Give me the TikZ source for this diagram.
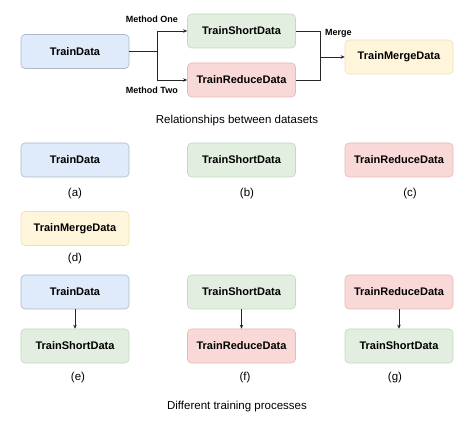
\documentclass[tikz,border=0pt]{standalone}
\usepackage{fontspec}
\setmainfont{Liberation Sans}
\usetikzlibrary{arrows.meta}
\definecolor{tdfill}{HTML}{DFEAFA}
\definecolor{tddraw}{HTML}{A9B9CF}
\definecolor{tsfill}{HTML}{E2EEDF}
\definecolor{tsdraw}{HTML}{C3DAC0}
\definecolor{trfill}{HTML}{F9D9D7}
\definecolor{trdraw}{HTML}{E6B9B6}
\definecolor{tmfill}{HTML}{FFF5DA}
\definecolor{tmdraw}{HTML}{F0DFB2}
\begin{document}
\begin{tikzpicture}[x=1pt,y=-1pt,>={Stealth[length=4pt,width=3.5pt]}]
    \tikzstyle{block} = [draw,rectangle,rounded corners=4pt,line width=0.6pt,minimum width=108pt,minimum height=34pt,font=\fontsize{11}{13}\selectfont\bfseries]
    \tikzstyle{tdb} = [block,fill=tdfill,draw=tddraw]
    \tikzstyle{tsb} = [block,fill=tsfill,draw=tsdraw]
    \tikzstyle{trb} = [block,fill=trfill,draw=trdraw]
    \tikzstyle{tmb} = [block,fill=tmfill,draw=tmdraw]
    \tikzstyle{lbl} = [font=\fontsize{9}{11}\selectfont\bfseries,inner sep=0pt]
    \tikzstyle{captxt} = [font=\fontsize{11.5}{13}\selectfont,inner sep=0pt]
    \tikzstyle{wire} = [line width=0.7pt,draw=black!85]
    \useasboundingbox (0,0) rectangle (474,430);

    \node [tdb] (td) at (75,51.5) {TrainData};
    \node [tsb] (tsd) at (241.5,31) {TrainShortData};
    \node [trb] (trd) at (241.5,80) {TrainReduceData};
    \node [tmb] (tmd) at (399,57) {TrainMergeData};
    \coordinate (split) at (157,51.5);
    \coordinate (merge) at (320,57);
    \draw [wire] (td) -- (split);
    \draw [wire,->] (split) |- (tsd);
    \draw [wire,->] (split) |- (trd);
    \draw [wire] (tsd.east) -| (merge);
    \draw [wire] (trd.east) -| (merge);
    \draw [wire,->] (merge) -- (tmd);
    \node [lbl,anchor=east] (m1) at (178,19) {Method One};
    \node [lbl,anchor=east] (m2) at (178,90) {Method Two};
    \node [lbl,anchor=west] (mg) at (325,33) {Merge};
    \node [captxt] (cap1) at (237,121) {Relationships between datasets};

    \node [tdb] (a) at (75,160) {TrainData};
    \node [tsb] (b) at (241.5,160) {TrainShortData};
    \node [trb] (c) at (399,160) {TrainReduceData};
    \node [tmb] (d) at (75,228.5) {TrainMergeData};
    \node [captxt] (la) at (75,194) {(a)};
    \node [captxt] (lb) at (247,194) {(b)};
    \node [captxt] (lc) at (410,194) {(c)};
    \node [captxt] (ld) at (75,259) {(d)};

    \node [tdb] (e1) at (75,292) {TrainData};
    \node [tsb] (e2) at (75,346) {TrainShortData};
    \node [tsb] (f1) at (241.5,292) {TrainShortData};
    \node [trb] (f2) at (241.5,346) {TrainReduceData};
    \node [trb] (g1) at (399,292) {TrainReduceData};
    \node [tsb] (g2) at (399,346) {TrainShortData};
    \draw [wire,->] (e1) -- (e2);
    \draw [wire,->] (f1) -- (f2);
    \draw [wire,->] (g1) -- (g2);
    \node [captxt] (le) at (78,378) {(e)};
    \node [captxt] (lf) at (245,378) {(f)};
    \node [captxt] (lg) at (395,378) {(g)};
    \node [captxt] (cap2) at (237,407) {Different training processes};
\end{tikzpicture}
\end{document}
